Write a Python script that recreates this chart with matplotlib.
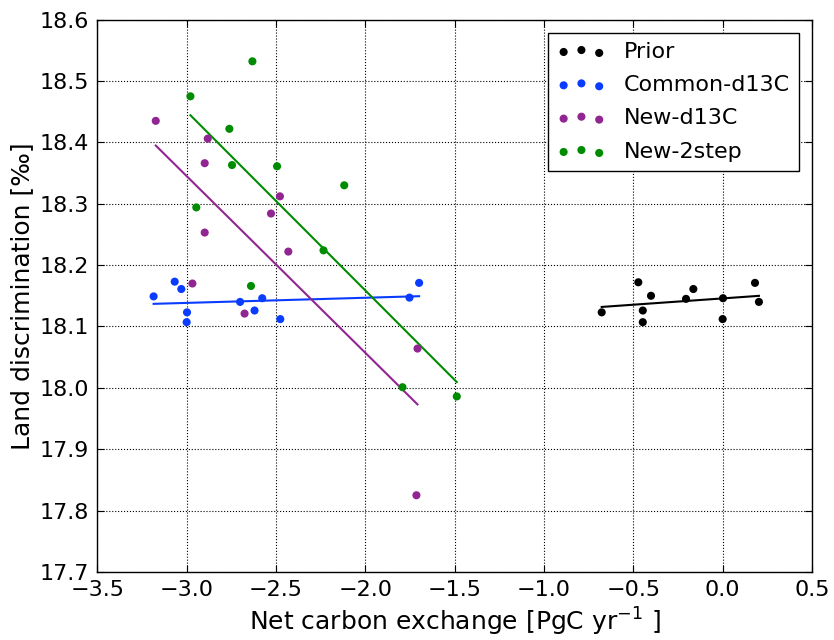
import numpy as np
import matplotlib
matplotlib.use("Agg")
import matplotlib.pyplot as plt
from matplotlib.ticker import FuncFormatter

plt.rcParams['font.family'] = ['DejaVu Sans']

series_names = ["Prior", "Common-d13C", "New-d13C", "New-2step"]

prior_x = [-0.677, -0.472, -0.401, -0.447, -0.447, -0.205, -0.164, 0.002, 0.0, 0.181, 0.203]
prior_y = [18.123, 18.172, 18.150, 18.126, 18.107, 18.145, 18.161, 18.146, 18.112, 18.171, 18.140]

common_x = [-3.185, -3.067, -3.030, -2.998, -3.000, -2.701, -2.577, -2.620, -2.476, -1.753, -1.699]
common_y = [18.149, 18.173, 18.161, 18.123, 18.107, 18.140, 18.146, 18.126, 18.112, 18.147, 18.171]

newd13c_x = [-3.173, -2.882, -2.899, -2.478, -2.528, -2.899, -2.431, -2.968, -2.676, -1.708, -1.714]
newd13c_y = [18.435, 18.406, 18.366, 18.312, 18.284, 18.253, 18.222, 18.170, 18.121, 18.064, 17.825]

new2step_x = [-2.632, -2.979, -2.761, -2.746, -2.494, -2.118, -2.946, -2.234, -2.640, -1.792, -1.488]
new2step_y = [18.532, 18.475, 18.422, 18.363, 18.361, 18.330, 18.294, 18.224, 18.166, 18.001, 17.986]

colors = ["#000000", "#0a3cff", "#912591", "#008c00"]

xticks = [-3.5, -3.0, -2.5, -2.0, -1.5, -1.0, -0.5, 0.0, 0.5]
yticks = [17.7, 17.8, 17.9, 18.0, 18.1, 18.2, 18.3, 18.4, 18.5, 18.6]

fig = plt.figure(figsize=(8.34, 6.40), dpi=100)
ax = fig.add_axes([0.1167, 0.1063, 0.9736 - 0.1167, 0.9694 - 0.1063])

data = [(prior_x, prior_y), (common_x, common_y), (newd13c_x, newd13c_y), (new2step_x, new2step_y)]
for (xs, ys), name, c in zip(data, series_names, colors):
    xs = np.array(xs); ys = np.array(ys)
    ax.scatter(xs, ys, s=34, color=c, edgecolors='none', label=name, zorder=3)
    k, b = np.polyfit(xs, ys, 1)
    xl = np.array([xs.min(), xs.max()])
    ax.plot(xl, k * xl + b, color=c, lw=1.5, zorder=2)

ax.set_xlim(-3.5, 0.5)
ax.set_ylim(17.7, 18.6)
ax.set_xticks(xticks)
ax.set_yticks(yticks)
fmt = FuncFormatter(lambda v, p: ('%.1f' % v).replace('-', '\u2212'))
ax.yaxis.set_major_formatter(fmt)
ax.xaxis.set_major_formatter(fmt)
ax.tick_params(direction='in', top=True, right=True, length=5, width=0.8, labelsize=16, pad=6)
ax.grid(True, color='k', linestyle=':', linewidth=0.8)
ax.set_axisbelow(True)
for sp in ax.spines.values():
    sp.set_linewidth(1.0)

ax.set_xlabel(r'Net carbon exchange [PgC yr$^{-1}$ ]', fontsize=18)
ax.set_ylabel('Land discrimination [‰]', fontsize=18)

leg = ax.legend(loc='upper right', scatterpoints=3, scatteryoffsets=[0.375, 0.5, 0.3125],
                fontsize=16, fancybox=False, framealpha=1, edgecolor='k',
                borderaxespad=0.6, handletextpad=0.8, labelspacing=0.6, handlelength=2.2)
leg.get_frame().set_linewidth(1.0)

fig.savefig('out.png', dpi=100)
